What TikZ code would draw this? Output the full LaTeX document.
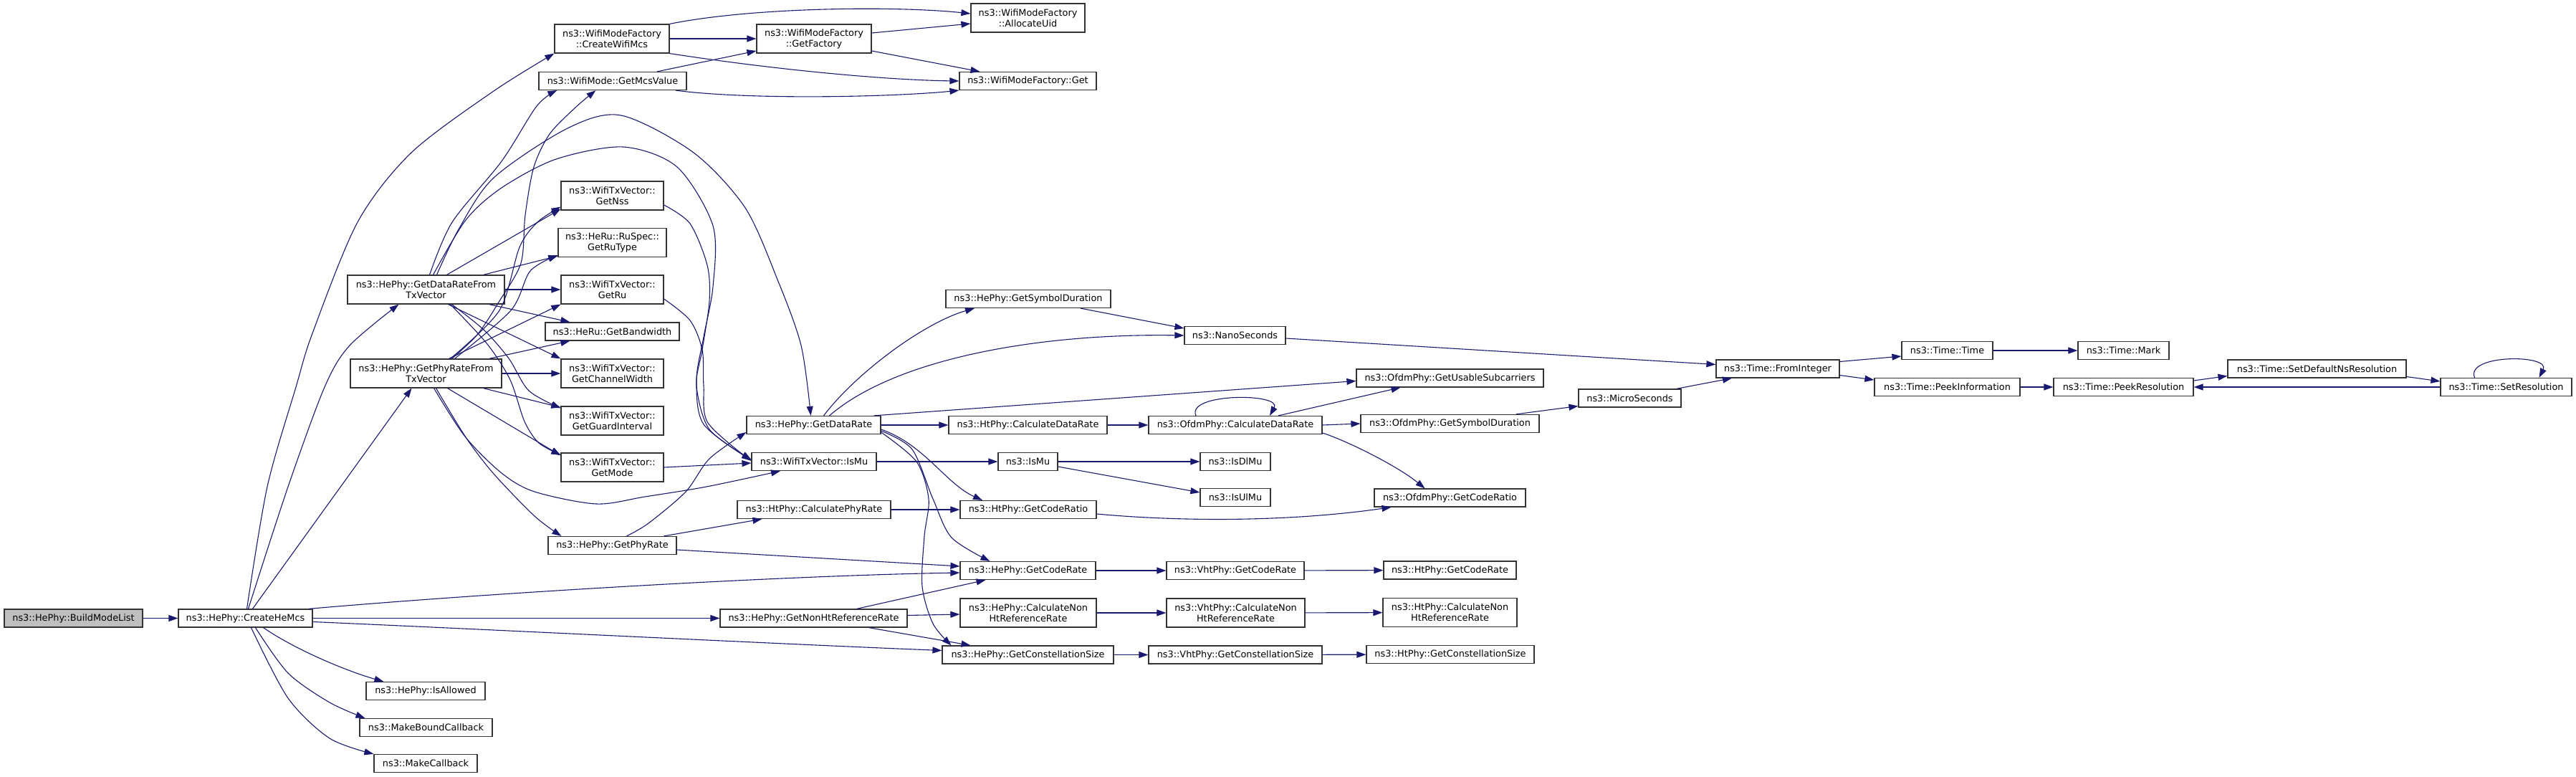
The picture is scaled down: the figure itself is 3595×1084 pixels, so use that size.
\documentclass[tikz,border=0pt]{standalone}
\usepackage{fontspec}
\setmainfont{DejaVu Sans}
\usetikzlibrary{arrows.meta}
\definecolor{edgec}{HTML}{191970}
\definecolor{bordc}{HTML}{333333}
\definecolor{rootc}{HTML}{BFBFBF}
\newcommand{\nfont}{\fontsize{12.85pt}{15pt}\selectfont}
\begin{document}
\begin{tikzpicture}[x=1pt,y=-1pt,
  box/.style={draw=bordc, line width=1.2pt, fill=white, inner sep=0pt, align=center,
              minimum height=25pt, font=\nfont, text=black},
  box2/.style={box, minimum height=40pt},
  e/.style={draw=edgec, line width=1.1pt, -{Triangle[length=13pt,width=9pt]}}]
\useasboundingbox (0,0) rectangle (3595,1084);

% nodes
\node[box,fill=rootc,minimum width=193pt] (bml) at (102.5,862.5) {ns3::HePhy::BuildModeList};
\node[box,minimum width=187pt] (che) at (342.5,862.5) {ns3::HePhy::CreateHeMcs};
\node[box2,minimum width=219pt] (gdrtx) at (594.5,404) {ns3::HePhy::GetDataRateFrom\\TxVector};
\node[box2,minimum width=211pt] (gprtx) at (594.5,521) {ns3::HePhy::GetPhyRateFrom\\TxVector};
\node[box,minimum width=166pt] (isal) at (594,964) {ns3::HePhy::IsAllowed};
\node[box,minimum width=185pt] (mbc) at (594.5,1015) {ns3::MakeBoundCallback};
\node[box,minimum width=144pt] (mcb) at (594,1065) {ns3::MakeCallback};
\node[box2,minimum width=160pt] (cwm) at (854,54) {ns3::WifiModeFactory\\::CreateWifiMcs};
\node[box,minimum width=206pt] (gmcs) at (855,113) {ns3::WifiMode::GetMcsValue};
\node[box2,minimum width=143pt] (gnss) at (854.5,273) {ns3::WifiTxVector::\\GetNss};
\node[box2,minimum width=151pt] (grut) at (854.5,338.5) {ns3::HeRu::RuSpec::\\GetRuType};
\node[box2,minimum width=143pt] (gru) at (854.5,404) {ns3::WifiTxVector::\\GetRu};
\node[box,minimum width=187pt] (gbw) at (854.5,462.5) {ns3::HeRu::GetBandwidth};
\node[box2,minimum width=143pt] (gcw) at (854.5,521) {ns3::WifiTxVector::\\GetChannelWidth};
\node[box2,minimum width=143pt] (ggi) at (854.5,587) {ns3::WifiTxVector::\\GetGuardInterval};
\node[box2,minimum width=143pt] (gmode) at (854.5,652) {ns3::WifiTxVector::\\GetMode};
\node[box,minimum width=179pt] (gpr) at (854.5,761) {ns3::HePhy::GetPhyRate};
\node[box2,minimum width=160pt] (gfac) at (1136,54) {ns3::WifiModeFactory\\::GetFactory};
\node[box,minimum width=187pt] (gdr) at (1135.5,593) {ns3::HePhy::GetDataRate};
\node[box,minimum width=174pt] (wismu) at (1136,644) {ns3::WifiTxVector::IsMu};
\node[box,minimum width=214pt] (cpr) at (1136,711) {ns3::HtPhy::CalculatePhyRate};
\node[box,minimum width=261pt] (gnhr) at (1135.5,862.5) {ns3::HePhy::GetNonHtReferenceRate};
\node[box2,minimum width=159pt] (auid) at (1434.5,25) {ns3::WifiModeFactory\\::AllocateUid};
\node[box,minimum width=191pt] (wget) at (1434.5,113) {ns3::WifiModeFactory::Get};
\node[box,minimum width=230pt] (hgsd) at (1435,417) {ns3::HePhy::GetSymbolDuration};
\node[box,minimum width=221pt] (hcdr) at (1434.5,593) {ns3::HtPhy::CalculateDataRate};
\node[box,minimum width=83pt] (ismu) at (1434.5,644) {ns3::IsMu};
\node[box,minimum width=190pt] (hgcr) at (1435,711) {ns3::HtPhy::GetCodeRatio};
\node[box,minimum width=189pt] (hegcr) at (1434.5,796) {ns3::HePhy::GetCodeRate};
\node[box2,minimum width=190pt] (hcnhr) at (1435,855) {ns3::HePhy::CalculateNon\\HtReferenceRate};
\node[box,minimum width=239pt] (hgcs) at (1434.5,913.5) {ns3::HePhy::GetConstellationSize};
\node[box,minimum width=141pt] (nano) at (1723.5,468) {ns3::NanoSeconds};
\node[box,minimum width=242pt] (ocdr) at (1724,593) {ns3::OfdmPhy::CalculateDataRate};
\node[box,minimum width=98pt] (isdl) at (1724,644) {ns3::IsDlMu};
\node[box,minimum width=98pt] (isul) at (1724,694) {ns3::IsUlMu};
\node[box,minimum width=192pt] (vgcr) at (1724,796) {ns3::VhtPhy::GetCodeRate};
\node[box2,minimum width=193pt] (vcnhr) at (1724.5,855) {ns3::VhtPhy::CalculateNon\\HtReferenceRate};
\node[box,minimum width=242pt] (vgcs) at (1724,913.5) {ns3::VhtPhy::GetConstellationSize};
\node[box,minimum width=261pt] (ogus) at (2023.5,527.5) {ns3::OfdmPhy::GetUsableSubcarriers};
\node[box,minimum width=249pt] (ogsd) at (2023.5,591) {ns3::OfdmPhy::GetSymbolDuration};
\node[box,minimum width=211pt] (ogcr) at (2023.5,694.5) {ns3::OfdmPhy::GetCodeRatio};
\node[box,minimum width=185pt] (htgcr) at (2023.5,795.5) {ns3::HtPhy::GetCodeRate};
\node[box2,minimum width=187pt] (htcnhr) at (2023.5,854.5) {ns3::HtPhy::CalculateNon\\HtReferenceRate};
\node[box,minimum width=234pt] (htgcs) at (2024,913) {ns3::HtPhy::GetConstellationSize};
\node[box,minimum width=143pt] (micro) at (2274.5,555.5) {ns3::MicroSeconds};
\node[box,minimum width=172pt] (fint) at (2481,514.5) {ns3::Time::FromInteger};
\node[box,minimum width=127pt] (ttime) at (2717.5,489) {ns3::Time::Time};
\node[box,minimum width=203pt] (tpi) at (2717.5,540) {ns3::Time::PeekInformation};
\node[box,minimum width=127pt] (tmark) at (2963.5,489) {ns3::Time::Mark};
\node[box,minimum width=195pt] (tpr) at (2963.5,540) {ns3::Time::PeekResolution};
\node[box,minimum width=249pt] (tsdr) at (3233.5,514.5) {ns3::Time::SetDefaultNsResolution};
\node[box,minimum width=183pt] (tsr) at (3497.5,540) {ns3::Time::SetResolution};

% edges from root / CreateHeMcs
\draw[e] (bml) -- (che);
\draw[e] plot[smooth] coordinates {([xshift=2pt]che.north) (373,679) (413,540) (436,465) (499,310) (574,213) (689,127) (cwm.south west)};
\draw[e] plot[smooth] coordinates {([xshift=4pt]che.north) (402,679) (453,540) (488,482) ([xshift=-38pt]gdrtx.south)};
\draw[e] ([xshift=10pt]che.north) -- ([xshift=-20pt]gprtx.south);
\draw[e] ([xshift=-6pt]che.north east) .. controls (700,826) and (1100,803) .. ([yshift=-3pt]hegcr.west);
\draw[e] (che) -- (gnhr);
\draw[e] ([yshift=-5pt]che.east) .. controls (700,879) and (1100,899) .. ([yshift=6pt]hgcs.west);
\draw[e] ([xshift=25pt]che.south) .. controls (410,905) and (480,935) .. ([xshift=25pt]isal.north west);
\draw[e] plot[smooth] coordinates {([xshift=14pt]che.south) (402,939) (460,980) ([xshift=8pt]mbc.north west)};
\draw[e] plot[smooth] coordinates {([xshift=8pt]che.south) (402,974) (460,1030) (mcb.north west)};

% GetDataRateFromTxVector
\draw[e] plot[smooth] coordinates {([xshift=5pt]gdrtx.north) (631,310) (700,225) (749,148) ([xshift=26pt]gmcs.south west)};
\draw[e] plot[smooth] coordinates {([xshift=15pt]gdrtx.north) (640,320) (689,248) (792,179) (867,161) (968,213) (1040,290) (1085,390) (1118,482) ([xshift=-4pt]gdr.north)};
\draw[e] plot[smooth] coordinates {([xshift=10pt]gdrtx.north) (650,307) (700,262) (776,222) (870,205) (945,233) (995,315) (995,400) (982,470) (972,530) (982,592) ([yshift=2pt]wismu.west)};
\draw[e] ([xshift=29pt]gdrtx.north) -- ([yshift=2pt]gnss.south west);
\draw[e] ([xshift=80pt]gdrtx.north) -- ([yshift=2pt]grut.south west);
\draw[e] (gdrtx) -- (gru);
\draw[e] ([xshift=88pt]gdrtx.south) -- ([xshift=35pt]gbw.north west);
\draw[e] ([xshift=31pt]gdrtx.south) -- (gcw.north west);
\draw[e] plot[smooth] coordinates {([xshift=36pt]gdrtx.south) (675,460) (710,500) (738,545) ([yshift=-3pt]ggi.north west)};
\draw[e] plot[smooth] coordinates {([xshift=34pt]gdrtx.south) (680,480) (712,530) (732,588) (752,618) ([yshift=-3pt]gmode.north west)};

% GetPhyRateFromTxVector
\draw[e] plot[smooth] coordinates {([xshift=36pt]gprtx.north) (666,467) (697,420) (727,367) (733,300) (745,233) (767,187) (803,150) ([xshift=80pt]gmcs.south west)};
\draw[e] plot[smooth] coordinates {([xshift=34pt]gprtx.north) (697,433) (725,345) (750,310) ([yshift=5pt]gnss.south west)};
\draw[e] plot[smooth] coordinates {([xshift=40pt]gprtx.north) (713,433) (740,378) ([yshift=3pt]grut.south west)};
\draw[e] ([xshift=32pt]gprtx.north) -- (gru.south west);
\draw[e] ([xshift=88pt]gprtx.north) -- ([xshift=35pt]gbw.south west);
\draw[e] (gprtx) -- (gcw);
\draw[e] ([xshift=80pt]gprtx.south) -- ([yshift=-2pt]ggi.north west);
\draw[e] ([xshift=30pt]gprtx.south) -- ([yshift=-4pt]gmode.north west);
\draw[e] plot[smooth] coordinates {([xshift=14pt]gprtx.south) (650,610) (689,661) (746,720) ([xshift=19pt]gpr.north west)};
\draw[e] plot[smooth] coordinates {([xshift=11pt]gprtx.south) (649,609) (700,660) (746,686) (832,703) (900,693) (986,679) ([xshift=-47pt]wismu.south)};

% WifiModeFactory group
\draw[e] (cwm.north east) .. controls (1050,10) and (1250,8) .. ([yshift=6pt]auid.west);
\draw[e] (cwm) -- (gfac);
\draw[e] (cwm.south east) .. controls (1100,100) and (1250,112) .. (wget.west);
\draw[e] ([yshift=8pt]gfac.east) -- ([yshift=-8pt]auid.west);
\draw[e] ([yshift=-17pt]gfac.east) -- ([xshift=-67pt]wget.north);
\draw[e] ([xshift=62pt]gmcs.north) -- ([yshift=-17pt]gfac.west);
\draw[e] ([xshift=88pt]gmcs.south) .. controls (1050,140) and (1250,135) .. (wget.south west);

% WifiTxVector -> IsMu
\draw[e] plot[smooth] coordinates {([yshift=-13pt]gnss.east) (963,312) (987,370) (990,420) (980,488) (972,538) (990,599) ([yshift=3pt]wismu.west)};
\draw[e] plot[smooth] coordinates {([yshift=-13pt]gru.east) (963,447) (980,488) (982,538) (988,590) ([yshift=1pt]wismu.west)};
\draw[e] (gmode.east) -- ([yshift=-2pt]wismu.west);

% GetPhyRate
\draw[e] plot[smooth] coordinates {([xshift=20pt]gpr.north) (905,730) (957,686) (990,640) ([yshift=-10pt]gdr.west)};
\draw[e] ([xshift=72pt]gpr.north) -- ([xshift=35pt]cpr.south west);
\draw[e] ([yshift=-6pt]gpr.east) -- ([yshift=6pt]hegcr.west);

% GetDataRate
\draw[e] ([xshift=14pt]gdr.north) .. controls (1195,520) and (1290,450) .. ([xshift=-75pt]hgsd.south);
\draw[e] ([xshift=22pt]gdr.north) .. controls (1250,500) and (1450,465) .. (nano.west);
\draw[e] ([xshift=-10pt]gdr.north east) -- ([yshift=-4pt]ogus.west);
\draw[e] (gdr) -- (hcdr);
\draw[e] ([yshift=-6pt]gdr.east) .. controls (1290,620) and (1320,675) .. ([xshift=-64pt]hgcr.north);
\draw[e] plot[smooth] coordinates {([yshift=-8pt]gdr.east) (1273,627) (1302,696) (1328,750) ([xshift=-53pt]hegcr.north)};
\draw[e] plot[smooth] coordinates {([yshift=-10pt]gdr.east) (1279,644) (1296,696) (1290,748) (1287,818) (1302,870) ([xshift=-107pt]hgcs.north)};

% remaining
\draw[e] (wismu) -- (ismu);
\draw[e] (cpr) -- (hgcr);
\draw[e] ([xshift=60pt]gnhr.north) -- ([xshift=-59pt]hegcr.south);
\draw[e] ([yshift=4pt]gnhr.east) -- ([yshift=-2pt]hcnhr.west);
\draw[e] ([xshift=77pt]gnhr.south) -- ([xshift=-80pt]hgcs.north);
\draw[e] (hcdr) -- (ocdr);
\draw[e] (ismu) -- (isdl);
\draw[e] ([yshift=-7pt]ismu.east) -- ([yshift=7pt]isul.west);
\draw[e] ([yshift=-6pt]hgcr.east) .. controls (1650,728) and (1800,728) .. ([xshift=-82pt]ogcr.south);
\draw[e] (hegcr) -- (vgcr);
\draw[e] (hcnhr) -- (vcnhr);
\draw[e] (hgcs) -- (vgcs);
\draw[e] (vgcr) -- (htgcr);
\draw[e] (vcnhr) -- (htcnhr);
\draw[e] (vgcs) -- (htgcs);
\draw[e] ([xshift=73pt]hgsd.south) -- ([yshift=10pt]nano.west);
\draw[e] ([yshift=-4pt]nano.east) -- ([yshift=6pt]fint.west);
\draw[e] ([xshift=-55pt]ocdr.north) .. controls (1655,548) and (1790,548) .. ([xshift=48pt]ocdr.north);
\draw[e] ([xshift=60pt]ocdr.north) -- ([xshift=-69pt]ogus.south);
\draw[e] (ocdr.east) -- (ogsd.west);
\draw[e] ([yshift=-11pt]ocdr.east) .. controls (1880,615) and (1950,650) .. ([xshift=-35pt]ogcr.north);
\draw[e] ([xshift=92pt]ogsd.north) -- ([yshift=-11pt]micro.west);
\draw[e] ([xshift=65pt]micro.north) -- ([xshift=-64pt]fint.south);
\draw[e] ([yshift=10pt]fint.east) -- ([yshift=-8pt]ttime.west);
\draw[e] ([yshift=-9pt]fint.east) -- ([yshift=10pt]tpi.west);
\draw[e] (ttime) -- (tmark);
\draw[e] (tpi) -- (tpr);
\draw[e] ([yshift=9pt]tpr.east) -- ([yshift=-10pt]tsdr.west);
\draw[e] ([yshift=-11pt]tsdr.east) -- ([yshift=8pt]tsr.west);
\draw[e] (tsr) -- (tpr);
\draw[e] ([xshift=-44pt]tsr.north) .. controls (3440,494) and (3560,494) .. ([xshift=46pt]tsr.north);
\end{tikzpicture}
\end{document}
